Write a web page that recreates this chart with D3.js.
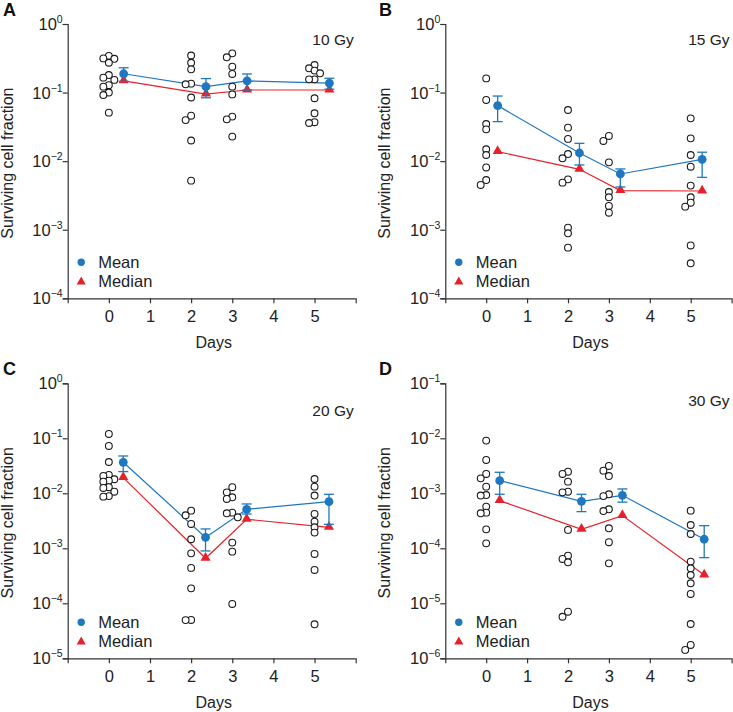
<!DOCTYPE html>
<html><head><meta charset="utf-8">
<script src="https://cdn.jsdelivr.net/npm/d3@7/dist/d3.min.js"></script>
<style>body{margin:0;background:#fff}svg{display:block}text{font-family:"Liberation Sans",Arial,sans-serif}</style>
</head><body><svg id="c" width="733" height="712"></svg>
<script>
// ---------- data ----------
const days = [0, 2, 3, 5];
const xTickLabels = [0, 1, 2, 3, 4, 5];
const panelLetters = ["A", "B", "C", "D"];
const doseLabels = ["10 Gy", "15 Gy", "20 Gy", "30 Gy"];
const yExpRanges = [[-4, 0], [-4, 0], [-5, 0], [-6, -1]];
const legendLabels = ["Mean", "Median"];
const yTitle = "Surviving cell fraction";
const xTitle = "Days";

// individual observations per day (0,2,3,5)
const obsA = [
  [0.343, 0.315, 0.311, 0.272, 0.180, 0.165, 0.153, 0.128, 0.122, 0.100, 0.092, 0.051],
  [0.347, 0.272, 0.218, 0.132, 0.135, 0.0847, 0.046, 0.0397, 0.020, 0.0052],
  [0.373, 0.327, 0.239, 0.187, 0.122, 0.094, 0.0446, 0.0407, 0.0228],
  [0.252, 0.226, 0.209, 0.191, 0.156, 0.156, 0.0826, 0.0499, 0.037, 0.036]
];
const meanA = [0.188, 0.122, 0.148, 0.137];
const errHiA = [0.23, 0.16, 0.187, 0.162];
const errLoA = [0.146, 0.084, 0.109, 0.112];
const medianA = [0.148, 0.095, 0.109, 0.109];

const obsB = [
  [0.161, 0.078, 0.0348, 0.0291, 0.0149, 0.0123, 0.0081, 0.0053, 0.0045],
  [0.0557, 0.0308, 0.0211, 0.0127, 0.0110, 0.00543, 0.00486, 0.00107, 0.000887, 0.000548],
  [0.0233, 0.0197, 0.0096, 0.00355, 0.00297, 0.00222, 0.00177],
  [0.0421, 0.0215, 0.0123, 0.0083, 0.0044, 0.00297, 0.00248, 0.00217, 0.00059, 0.000324]
];
const meanB = [0.0645, 0.01315, 0.0065, 0.01064];
const errHiB = [0.089, 0.0182, 0.0077, 0.0135];
const errLoB = [0.0377, 0.0088, 0.0042, 0.0058];
const medianB = [0.0138, 0.0076, 0.00372, 0.00367];

const obsC = [
  [0.120, 0.0726, 0.0371, 0.0216, 0.0207, 0.0180, 0.0170, 0.0163, 0.0129, 0.0125, 0.0107, 0.0089, 0.0087],
  [0.00484, 0.00398, 0.00277, 0.00146, 0.00081, 0.00044, 0.000187, 0.0000498, 0.0000495],
  [0.0129, 0.0104, 0.00846, 0.00789, 0.00445, 0.00433, 0.00366, 0.00127, 0.00087, 0.0000973],
  [0.0182, 0.0132, 0.0091, 0.00421, 0.00305, 0.00241, 0.00193, 0.000789, 0.000404, 0.0000415]
];
const meanC = [0.0366, 0.00158, 0.00512, 0.00705];
const errHiC = [0.0477, 0.00225, 0.0064, 0.0096];
const errLoC = [0.0248, 0.000895, 0.0042, 0.00273];
const medianC = [0.0193, 0.000658, 0.00337, 0.00241];

const obsD = [
  [0.00908, 0.00404, 0.00225, 0.00187, 0.00132, 0.00093, 0.00091, 0.000573, 0.000445, 0.000433, 0.000221, 0.000123],
  [0.00247, 0.00225, 0.00163, 0.00107, 0.00104, 0.000216, 0.0000735, 0.000064, 0.0000556, 0.00000703, 0.0000057],
  [0.00314, 0.00258, 0.00206, 0.00096, 0.00089, 0.000512, 0.000476, 0.000231, 0.000129, 0.0000533],
  [0.000484, 0.000265, 0.000182, 0.0000573, 0.0000433, 0.0000327, 0.0000231, 0.0000148, 0.0000042, 0.00000175, 0.00000142]
];
const meanD = [0.0017, 0.000715, 0.00092, 0.000146];
const errHiD = [0.00241, 0.00096, 0.0012, 0.000258];
const errLoD = [0.00096, 0.000464, 0.00069, 0.0000676];
const medianD = [0.000736, 0.000221, 0.000393, 0.0000327];

// ---------- layout ----------
const BLUE = "#1f77c0", RED = "#e5222b", AXIS = "#333";
const panels = [
  {obs: obsA, mean: meanA, hi: errHiA, lo: errLoA, med: medianA, left: 67.7, right: 355.7, top: 24, bottom: 298.3, off: 0.36, gyDy: 21, letterX: 3, letterY: 16},
  {obs: obsB, mean: meanB, hi: errHiB, lo: errLoB, med: medianB, left: 445.3, right: 731.6, top: 24, bottom: 298.3, off: 0.28, gyDy: 21, letterX: 379, letterY: 16},
  {obs: obsC, mean: meanC, hi: errHiC, lo: errLoC, med: medianC, left: 67.7, right: 355.7, top: 383.3, bottom: 658.3, off: 0.35, gyDy: 33, letterX: 3, letterY: 375},
  {obs: obsD, mean: meanD, hi: errHiD, lo: errLoD, med: medianD, left: 445.3, right: 731.6, top: 383.3, bottom: 658.3, off: 0.33, gyDy: 23, letterX: 379, letterY: 375}
];

const svg = d3.select("#c");

function swarm(vals, cx, y) {
  const pts = vals.map(v => ({v, py: y(v)})).sort((a, b) => a.py - b.py);
  const placed = [];
  const offsets = [0, -5.5, 5.5, -10, 10, -14, 14];
  const minD = 5.2;
  pts.forEach(p => {
    for (const o of offsets) {
      const px = cx + o;
      if (placed.every(q => Math.hypot(q.px - px, q.py - p.py) >= minD)) { p.px = px; break; }
    }
    if (p.px === undefined) p.px = cx;
    placed.push(p);
  });
  return placed;
}

panels.forEach((P, i) => {
  const [lo, hi] = yExpRanges[i];
  const x = d3.scaleLinear().domain([-1, 6]).range([P.left, P.right]);
  const y = d3.scaleLog().domain([Math.pow(10, lo), Math.pow(10, hi)]).range([P.bottom, P.top]);
  const g = svg.append("g");

  // x axis
  const xa = g.append("g").attr("transform", `translate(0,${P.bottom})`)
    .call(d3.axisBottom(x).tickValues(xTickLabels).tickSize(5).tickSizeOuter(5).tickFormat(d3.format("d")));
  xa.selectAll("path,line").attr("stroke", AXIS).attr("stroke-width", 1.2);
  xa.selectAll("text").attr("font-size", 16.5).attr("fill", "#222").attr("y", 12)
    .attr("font-family", '"Liberation Sans",Arial,sans-serif');

  // y axis
  const exps = d3.range(lo, hi + 1);
  const ya = g.append("g").attr("transform", `translate(${P.left},0)`)
    .call(d3.axisLeft(y).tickValues(exps.map(e => Math.pow(10, e))).tickSize(5).tickSizeOuter(5).tickFormat(""));
  ya.selectAll("path,line").attr("stroke", AXIS).attr("stroke-width", 1.2);
  exps.forEach(e => {
    const t = g.append("text").attr("x", P.left - 5).attr("y", y(Math.pow(10, e)) + 6)
      .attr("text-anchor", "end").attr("font-size", 16.5).attr("fill", "#222");
    t.append("tspan").text("10");
    t.append("tspan").attr("font-size", 10.5).attr("dy", -7).text(e === 0 ? "0" : "\u2212" + Math.abs(e));
  });

  // titles
  g.append("text").attr("transform", `translate(${P.left - 55},${(P.top + P.bottom) / 2 + 2}) rotate(-90)`)
    .attr("text-anchor", "middle").attr("font-size", 16).attr("fill", "#222").text(yTitle);
  g.append("text").attr("x", (P.left + P.right) / 2 + 2).attr("y", P.bottom + 50)
    .attr("text-anchor", "middle").attr("font-size", 16).attr("fill", "#222").text(xTitle);
  g.append("text").attr("x", P.letterX).attr("y", P.letterY).attr("font-size", 18).attr("font-weight", "bold")
    .attr("fill", "#111").text(panelLetters[i]);
  g.append("text").attr("x", P.right - 2).attr("y", P.top + P.gyDy).attr("text-anchor", "end")
    .attr("font-size", 15.5).attr("fill", "#222").text(doseLabels[i]);

  const mx = days.map(d => x(d + P.off));
  // lines
  g.append("path").attr("d", d3.line()(days.map((d, k) => [mx[k], y(P.med[k])])))
    .attr("fill", "none").attr("stroke", RED).attr("stroke-width", 1.2);
  g.append("path").attr("d", d3.line()(days.map((d, k) => [mx[k], y(P.mean[k])])))
    .attr("fill", "none").attr("stroke", BLUE).attr("stroke-width", 1.2);

  // individual points
  days.forEach((d, k) => {
    const pts = swarm(P.obs[k], x(d), y);
    g.selectAll(null).data(pts).enter().append("circle")
      .attr("cx", p => p.px).attr("cy", p => p.py).attr("r", 3.4)
      .attr("fill", "#fff").attr("stroke", "#1a1a1a").attr("stroke-width", 1.1);
  });

  // median triangles
  g.selectAll(null).data(days).enter().append("path")
    .attr("d", d3.symbol(d3.symbolTriangle, 44)())
    .attr("transform", (d, k) => `translate(${mx[k]},${y(P.med[k]) - 0.5})`)
    .attr("fill", RED);

  // error bars
  days.forEach((d, k) => {
    const xx = mx[k], y1 = y(P.hi[k]), y0 = y(P.lo[k]);
    g.append("line").attr("x1", xx).attr("x2", xx).attr("y1", y1).attr("y2", y0).attr("stroke", BLUE).attr("stroke-width", 1.3);
    [y1, y0].forEach(yy => g.append("line").attr("x1", xx - 5).attr("x2", xx + 5).attr("y1", yy).attr("y2", yy)
      .attr("stroke", BLUE).attr("stroke-width", 1.3));
  });
  // means
  g.selectAll(null).data(days).enter().append("circle")
    .attr("cx", (d, k) => mx[k]).attr("cy", (d, k) => y(P.mean[k])).attr("r", 4.4).attr("fill", BLUE);

  // legend
  const lx = P.left + 13.5;
  g.append("circle").attr("cx", lx).attr("cy", P.bottom - 36).attr("r", 3.7).attr("fill", BLUE);
  g.append("path").attr("d", d3.symbol(d3.symbolTriangle, 36)()).attr("transform", `translate(${lx},${P.bottom - 16.5})`).attr("fill", RED);
  g.append("text").attr("x", P.left + 30.5).attr("y", P.bottom - 30.3).attr("font-size", 16.5).attr("fill", "#222").text(legendLabels[0]);
  g.append("text").attr("x", P.left + 30.5).attr("y", P.bottom - 11.3).attr("font-size", 16.5).attr("fill", "#222").text(legendLabels[1]);
});
</script></body></html>
